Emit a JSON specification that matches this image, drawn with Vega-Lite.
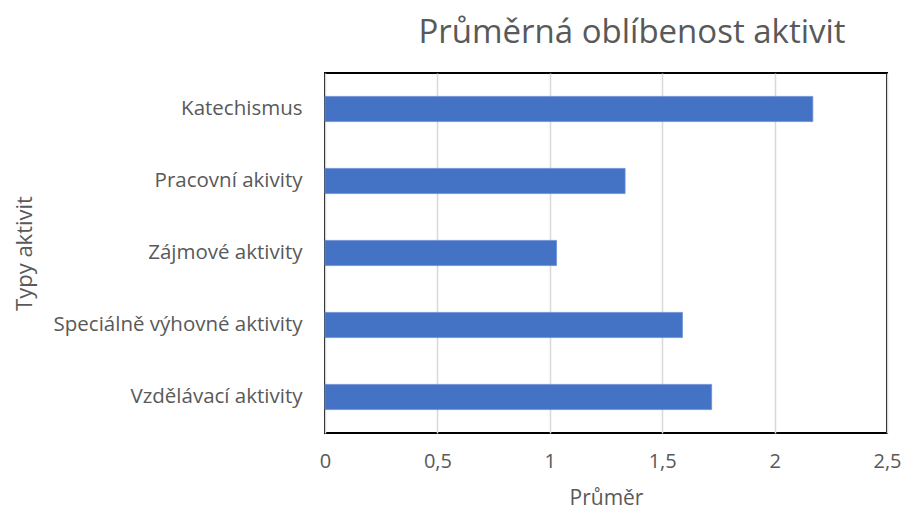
{
  "$schema": "https://vega.github.io/schema/vega-lite/v6.json",
  "autosize": {"type": "none"},
  "width": 562,
  "height": 360,
  "padding": {"left": 325, "top": 73, "right": 16, "bottom": 80},
  "background": "white",
  "title": {
    "text": "Průměrná oblíbenost aktivit",
    "fontSize": 33,
    "font": "Open Sans",
    "fontWeight": "normal",
    "color": "#595959",
    "anchor": "middle",
    "dx": 26,
    "offset": 23
  },
  "data": {
    "values": [
      {"typ": "Katechismus", "prumer": 2.17},
      {"typ": "Pracovní akivity", "prumer": 1.335},
      {"typ": "Zájmové aktivity", "prumer": 1.03},
      {"typ": "Speciálně výhovné aktivity", "prumer": 1.59},
      {"typ": "Vzdělávací aktivity", "prumer": 1.72}
    ]
  },
  "mark": {"type": "bar", "color": "#4472C4", "stroke": "#6a8fd6", "strokeWidth": 0.8},
  "encoding": {
    "y": {
      "field": "typ",
      "type": "nominal",
      "sort": null,
      "scale": {"paddingInner": 0.65, "paddingOuter": 0.325},
      "axis": {
        "title": "Typy aktivit",
        "titleFont": "Open Sans",
        "titleFontSize": 22,
        "titleFontWeight": "normal",
        "titleColor": "#595959",
        "titleX": -301,
        "titleY": 180,
        "titleAngle": -90,
        "titleAlign": "center",
        "titleBaseline": "middle",
        "labelFont": "Open Sans",
        "labelFontSize": 20.5,
        "labelColor": "#595959",
        "labelPadding": 23,
        "labelLimit": 400,
        "ticks": false,
        "domain": false,
        "grid": false
      }
    },
    "x": {
      "field": "prumer",
      "type": "quantitative",
      "scale": {"domain": [0, 2.5], "nice": false},
      "axis": {
        "title": "Průměr",
        "titleFont": "Open Sans",
        "titleFontSize": 21,
        "titleFontWeight": "normal",
        "titleColor": "#595959",
        "titlePadding": 16,
        "values": [0, 0.5, 1, 1.5, 2, 2.5],
        "labelExpr": "replace(format(datum.value, '~g'), '.', ',')",
        "labelFont": "Open Sans",
        "labelFontSize": 20,
        "labelColor": "#595959",
        "labelPadding": 18,
        "labelFlush": false,
        "ticks": false,
        "domain": false,
        "grid": true,
        "gridColor": "#d9d9d9",
        "gridWidth": 1.5
      }
    }
  },
  "config": {
    "view": {"stroke": "#000000", "strokeWidth": 2}
  }
}
